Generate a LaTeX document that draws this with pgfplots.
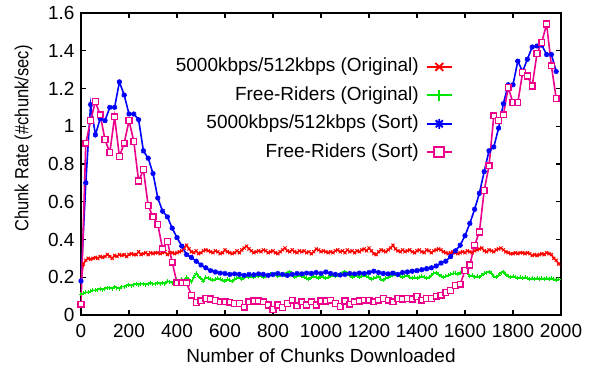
\documentclass[border=0pt]{standalone}
\usepackage{fontspec}
\setmainfont{Liberation Sans}
\usepackage{graphicx}
\usepackage{pgfplots}
\usepackage{pgfplotstable}
\pgfplotsset{compat=1.18}
\pgfdeclareplotmark{gpstar}{%
 \pgfpathmoveto{\pgfqpoint{-\pgfplotmarksize}{0pt}}\pgfpathlineto{\pgfqpoint{\pgfplotmarksize}{0pt}}%
 \pgfpathmoveto{\pgfqpoint{0pt}{-\pgfplotmarksize}}\pgfpathlineto{\pgfqpoint{0pt}{\pgfplotmarksize}}%
 \pgfpathmoveto{\pgfqpoint{-.707\pgfplotmarksize}{-.707\pgfplotmarksize}}\pgfpathlineto{\pgfqpoint{.707\pgfplotmarksize}{.707\pgfplotmarksize}}%
 \pgfpathmoveto{\pgfqpoint{-.707\pgfplotmarksize}{.707\pgfplotmarksize}}\pgfpathlineto{\pgfqpoint{.707\pgfplotmarksize}{-.707\pgfplotmarksize}}%
 \pgfusepathqstroke}
\pgfdeclareplotmark{gpplus}{%
 \pgfpathmoveto{\pgfqpoint{-\pgfplotmarksize}{0pt}}\pgfpathlineto{\pgfqpoint{\pgfplotmarksize}{0pt}}%
 \pgfpathmoveto{\pgfqpoint{0pt}{-\pgfplotmarksize}}\pgfpathlineto{\pgfqpoint{0pt}{\pgfplotmarksize}}%
 \pgfusepathqstroke}
\definecolor{gpgreen}{RGB}{0,230,0}
\begin{document}
\pgfplotstableread{
x r g
0 0.18 0.11
10 0.27 0.115
20 0.29 0.12
30 0.30 0.12
40 0.295 0.125
50 0.30 0.13
60 0.305 0.13
70 0.30 0.135
80 0.31 0.14
90 0.305 0.135
100 0.31 0.14
110 0.32 0.145
120 0.31 0.145
130 0.30 0.14
140 0.315 0.15
150 0.31 0.145
160 0.32 0.14
170 0.315 0.15
180 0.32 0.15
190 0.31 0.155
200 0.32 0.16
210 0.325 0.155
220 0.32 0.16
230 0.32 0.165
240 0.335 0.16
250 0.32 0.165
260 0.325 0.165
270 0.33 0.16
280 0.32 0.165
290 0.33 0.17
300 0.325 0.165
310 0.33 0.165
320 0.33 0.17
330 0.325 0.165
340 0.33 0.17
350 0.335 0.165
360 0.32 0.18
370 0.33 0.175
380 0.33 0.17
390 0.325 0.18
400 0.33 0.185
410 0.335 0.18
420 0.34 0.19
430 0.355 0.185
440 0.37 0.2
450 0.35 0.19
460 0.335 0.175
470 0.33 0.2
480 0.34 0.22
490 0.325 0.205
500 0.33 0.195
510 0.34 0.18
520 0.345 0.2
530 0.34 0.195
540 0.335 0.19
550 0.33 0.185
560 0.34 0.19
570 0.335 0.195
580 0.325 0.19
590 0.33 0.185
600 0.345 0.18
610 0.335 0.19
620 0.33 0.185
630 0.325 0.18
640 0.33 0.19
650 0.34 0.195
660 0.33 0.2
670 0.345 0.19
680 0.355 0.2
690 0.365 0.205
700 0.35 0.2
710 0.34 0.205
720 0.33 0.2
730 0.335 0.21
740 0.34 0.205
750 0.335 0.21
760 0.345 0.2
770 0.34 0.205
780 0.33 0.21
790 0.335 0.215
800 0.34 0.21
810 0.33 0.215
820 0.325 0.205
830 0.335 0.21
840 0.345 0.215
850 0.355 0.21
860 0.34 0.225
870 0.335 0.23
880 0.345 0.215
890 0.335 0.2
900 0.33 0.205
910 0.34 0.21
920 0.335 0.205
930 0.34 0.2
940 0.33 0.195
950 0.335 0.19
960 0.325 0.2
970 0.335 0.205
980 0.35 0.2
990 0.345 0.195
1000 0.335 0.205
1010 0.34 0.2
1020 0.335 0.195
1030 0.33 0.2
1040 0.335 0.205
1050 0.33 0.21
1060 0.34 0.205
1070 0.345 0.21
1080 0.335 0.215
1090 0.34 0.225
1100 0.33 0.23
1110 0.345 0.215
1120 0.335 0.21
1130 0.34 0.2
1140 0.33 0.205
1150 0.34 0.21
1160 0.335 0.2
1170 0.345 0.205
1180 0.35 0.21
1190 0.34 0.205
1200 0.355 0.2
1210 0.34 0.19
1220 0.325 0.195
1230 0.32 0.2
1240 0.335 0.205
1250 0.345 0.19
1260 0.34 0.185
1270 0.335 0.195
1280 0.345 0.2
1290 0.355 0.205
1300 0.37 0.21
1310 0.35 0.215
1320 0.34 0.21
1330 0.335 0.205
1340 0.345 0.2
1350 0.335 0.205
1360 0.34 0.21
1370 0.345 0.2
1380 0.335 0.195
1390 0.33 0.2
1400 0.34 0.195
1410 0.345 0.2
1420 0.335 0.205
1430 0.33 0.2
1440 0.345 0.195
1450 0.34 0.2
1460 0.33 0.21
1470 0.34 0.22
1480 0.345 0.225
1490 0.35 0.215
1500 0.345 0.205
1510 0.335 0.2
1520 0.33 0.205
1530 0.325 0.21
1540 0.33 0.215
1550 0.335 0.22
1560 0.33 0.22
1570 0.325 0.215
1580 0.33 0.225
1590 0.335 0.235
1600 0.33 0.24
1610 0.34 0.225
1620 0.335 0.205
1630 0.33 0.21
1640 0.34 0.2
1650 0.345 0.205
1660 0.35 0.2
1670 0.355 0.21
1680 0.34 0.22
1690 0.335 0.225
1700 0.345 0.23
1710 0.34 0.22
1720 0.335 0.205
1730 0.345 0.2
1740 0.35 0.21
1750 0.355 0.225
1760 0.345 0.23
1770 0.335 0.215
1780 0.33 0.205
1790 0.325 0.2
1800 0.325 0.205
1810 0.33 0.2
1820 0.325 0.195
1830 0.33 0.2
1840 0.33 0.195
1850 0.325 0.2
1860 0.33 0.195
1870 0.325 0.19
1880 0.315 0.195
1890 0.32 0.19
1900 0.315 0.195
1910 0.32 0.19
1920 0.325 0.195
1930 0.32 0.19
1940 0.33 0.195
1950 0.325 0.19
1960 0.32 0.195
1970 0.30 0.19
1980 0.29 0.185
1990 0.27 0.19
}\orig
\pgfplotstableread{
x b p
0 0.18 0.058
20 0.70 0.91
40 1.115 1.03
60 0.955 1.13
80 1.04 1.06
100 1.03 0.93
120 1.10 0.86
140 1.10 1.05
160 1.235 0.84
180 1.165 0.91
200 1.065 1.03
220 1.065 0.92
240 1.035 0.71
260 0.87 0.77
280 0.83 0.58
300 0.75 0.52
320 0.62 0.48
340 0.55 0.35
360 0.52 0.39
380 0.46 0.28
400 0.41 0.17
420 0.365 0.17
440 0.32 0.17
460 0.305 0.105
480 0.285 0.065
500 0.265 0.075
520 0.25 0.088
540 0.235 0.085
560 0.228 0.077
580 0.222 0.07
600 0.22 0.07
620 0.215 0.068
640 0.218 0.062
660 0.215 0.062
680 0.21 0.042
700 0.215 0.07
720 0.213 0.074
740 0.218 0.074
760 0.215 0.07
780 0.21 0.053
800 0.215 0.03
820 0.22 0.053
840 0.215 0.04
860 0.21 0.062
880 0.215 0.079
900 0.22 0.048
920 0.218 0.07
940 0.222 0.053
960 0.22 0.07
980 0.225 0.053
1000 0.22 0.074
1020 0.228 0.074
1040 0.22 0.079
1060 0.215 0.062
1080 0.212 0.044
1100 0.215 0.074
1120 0.22 0.057
1140 0.218 0.07
1160 0.222 0.074
1180 0.22 0.079
1200 0.225 0.079
1220 0.232 0.07
1240 0.225 0.079
1260 0.22 0.088
1280 0.218 0.079
1300 0.222 0.07
1320 0.215 0.088
1340 0.225 0.085
1360 0.228 0.088
1380 0.232 0.085
1400 0.235 0.097
1420 0.24 0.079
1440 0.245 0.088
1460 0.25 0.088
1480 0.26 0.10
1500 0.275 0.105
1520 0.285 0.12
1540 0.31 0.13
1560 0.34 0.155
1580 0.37 0.163
1600 0.42 0.235
1620 0.485 0.265
1640 0.56 0.37
1660 0.645 0.44
1680 0.76 0.66
1700 0.87 0.79
1720 0.89 1.055
1740 0.99 1.03
1760 1.12 1.06
1780 1.22 1.206
1800 1.22 1.125
1820 1.345 1.125
1840 1.29 1.284
1860 1.355 1.266
1880 1.42 1.213
1900 1.425 1.386
1920 1.43 1.445
1940 1.38 1.542
1960 1.38 1.32
1980 1.29 1.148
}\sorted
\begin{tikzpicture}
\fontsize{19}{23}\selectfont
\useasboundingbox (-81pt,-53pt) rectangle (514pt,315pt);
\begin{axis}[
  at={(0,0)}, anchor=south west,
  scale only axis, width=480pt, height=302pt,
  xmin=0, xmax=2000, ymin=0, ymax=1.6,
  xtick={0,200,400,600,800,1000,1200,1400,1600,1800,2000},
  ytick={0,0.2,0.4,0.6,0.8,1,1.2,1.4,1.6},
  /pgf/number format/1000 sep={},
  /pgf/number format/assume math mode=true,
  tick align=inside,
  major tick length=5pt,
  every tick/.style={black, line width=1.2pt},
  axis line style={line width=1.6pt},
  font=\fontsize{19}{23}\selectfont,
  xticklabel style={yshift=-3pt},
  xlabel={Number of Chunks Downloaded},
  ylabel={\scalebox{0.87}[1]{Chunk Rate (\#chunk/sec)}},
  xlabel style={at={(axis description cs:0.5,-0.136)}, anchor=center},
  ylabel style={at={(axis description cs:-0.12,0.584)}, anchor=center},
  legend plot pos=right,
  legend cell align=right,
  legend image code/.code={\draw[mark repeat=2,mark phase=2,#1,line width=2pt] plot coordinates {(0cm,0cm) (0.44cm,0cm) (0.88cm,0cm)};},
  legend style={at={(rel axis cs:0.775,0.855)}, anchor=north east, draw=none, fill=none,
    inner sep=0pt, row sep=8.4pt, column sep=6pt,
    nodes={inner sep=1pt, text height=14pt, text depth=4pt}},
]
\addplot[red, line width=1.5pt, mark=x, mark size=2.2pt, mark options={solid, line width=1pt},
  legend image post style={mark size=5.5pt, mark options={solid, draw=red, line width=1.8pt}}] table[x=x,y=r]{\orig};
\addlegendentry{5000kbps/512kbps (Original)}
\addplot[gpgreen, line width=1.5pt, mark=gpplus, mark size=2pt, mark options={solid, line width=1pt},
  legend image post style={gpgreen, mark size=5.5pt, mark options={solid, draw=gpgreen, line width=1.8pt}}] table[x=x,y=g]{\orig};
\addlegendentry{Free-Riders (Original)}
\addplot[blue, line width=1.6pt, mark=gpstar, mark size=2.6pt, mark options={solid, line width=1.3pt},
  legend image post style={mark size=5pt, mark options={solid, draw=blue, line width=1.8pt}}] table[x=x,y=b]{\sorted};
\addlegendentry{5000kbps/512kbps (Sort)}
\addplot[magenta, line width=1.6pt, mark=square*, mark size=2.9pt, mark options={solid, fill=white, line width=1.3pt},
  legend image post style={mark size=5pt, mark options={solid, draw=magenta, fill=white, line width=1.8pt}}] table[x=x,y=p]{\sorted};
\addlegendentry{Free-Riders (Sort)}
\end{axis}
\end{tikzpicture}
\end{document}
